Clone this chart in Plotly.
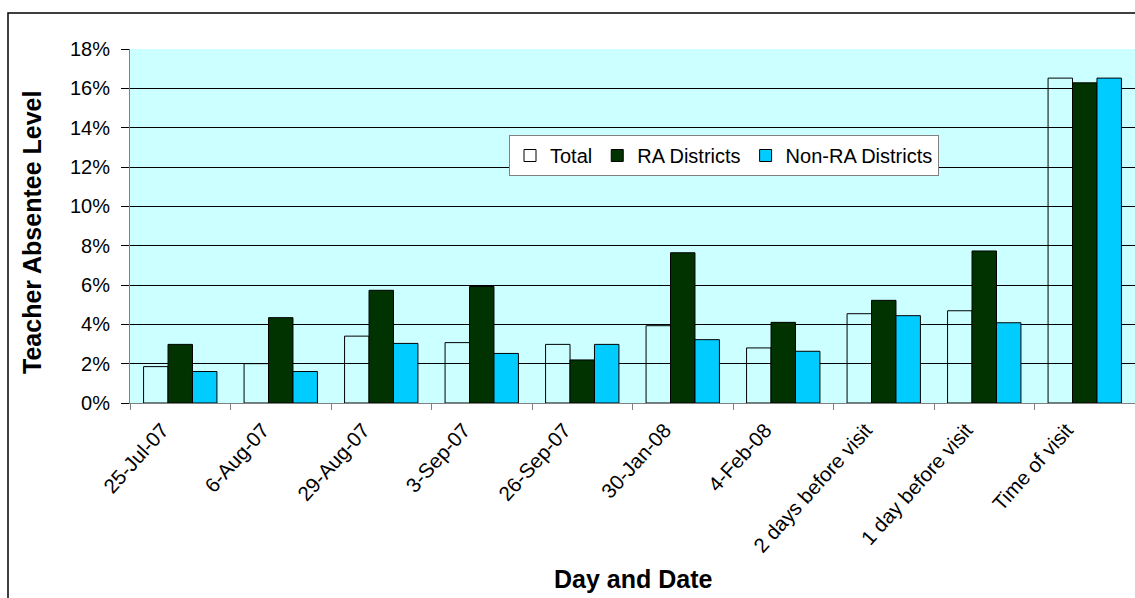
import plotly.graph_objects as go

categories = ["25-Jul-07", "6-Aug-07", "29-Aug-07", "3-Sep-07", "26-Sep-07",
              "30-Jan-08", "4-Feb-08", "2 days before visit", "1 day before visit",
              "Time of visit"]
total = [0.0185, 0.020, 0.034, 0.0307, 0.0298, 0.0393, 0.028, 0.0454, 0.0469, 0.1652]
ra_districts = [0.0298, 0.0434, 0.0573, 0.0592, 0.0219, 0.0764, 0.041, 0.0522, 0.0773, 0.1628]
non_ra_districts = [0.016, 0.016, 0.0303, 0.0252, 0.0298, 0.0322, 0.0263, 0.0444, 0.0408, 0.1652]
series_names = ["Total", "RA Districts", "Non-RA Districts"]
y_ticks = [0, 0.02, 0.04, 0.06, 0.08, 0.10, 0.12, 0.14, 0.16, 0.18]

FONT = "Arial, Liberation Sans, sans-serif"

fig = go.Figure()
fills = ["rgba(0,0,0,0)", "#003300", "#00CCFF"]
for name, vals, col in zip(series_names, [total, ra_districts, non_ra_districts], fills):
    fig.add_trace(go.Bar(
        x=categories, y=vals, name=name,
        marker=dict(color=col, line=dict(color="#000000", width=1)),
    ))

W, H = 1135, 598
L, T, B = 130, 49, 195
PW, PH = W - L, H - T - B

fig.update_layout(
    width=W, height=H,
    margin=dict(l=L, r=0, t=T, b=B),
    paper_bgcolor="white",
    plot_bgcolor="#CCFFFF",
    barmode="group",
    bargap=0.27,
    bargroupgap=0,
    font=dict(family=FONT, size=20, color="#000000"),
    showlegend=True,
    legend=dict(
        orientation="h",
        x=(509 - L) / PW, y=(T + PH - 135) / PH, xanchor="left", yanchor="top",
        bgcolor="white", bordercolor="#808080", borderwidth=1,
        font=dict(family=FONT, size=20, color="#000000"),
        traceorder="normal",
        itemwidth=30,
    ),
    xaxis=dict(
        type="category",
        showline=True, linecolor="#808080", linewidth=1,
        ticks="outside", tickson="boundaries", ticklen=6, tickcolor="#808080",
        tickangle=-48,
        ticklabelshift=-18,
        ticklabelstandoff=6,
        tickfont=dict(family=FONT, size=20.5, color="#000000"),
        showgrid=False,
    ),
    yaxis=dict(
        range=[0, 0.18],
        tickvals=y_ticks,
        tickformat=".0%",
        showline=True, linecolor="#808080", linewidth=1,
        ticks="outside", ticklen=8, tickcolor="#000000",
        ticklabelstandoff=7,
        tickfont=dict(family=FONT, size=20, color="#000000"),
        showgrid=True, gridcolor="#000000", gridwidth=1,
        zeroline=False,
    ),
    shapes=[dict(
        type="rect", xref="paper", yref="paper",
        x0=(8 - L) / PW, x1=1.05, y0=-0.65, y1=(T + PH - 13) / PH,
        line=dict(color="#000000", width=1.5), fillcolor="rgba(0,0,0,0)", layer="below",
    )],
    annotations=[
        dict(text="<b>Teacher Absentee Level</b>", xref="paper", yref="paper",
             x=(32 - L) / PW, y=(T + PH - 233) / PH, textangle=-90, showarrow=False,
             font=dict(family=FONT, size=25, color="#000000"),
             xanchor="center", yanchor="middle"),
        dict(text="<b>Day and Date</b>", xref="paper", yref="paper",
             x=0.5, y=(T + PH - 579) / PH, showarrow=False,
             font=dict(family=FONT, size=25, color="#000000"),
             xanchor="center", yanchor="middle"),
    ],
)

fig.write_html(
    "out.html",
    config={"displayModeBar": False},
    post_script="document.body.style.margin='0';document.body.style.overflow='hidden';",
)
